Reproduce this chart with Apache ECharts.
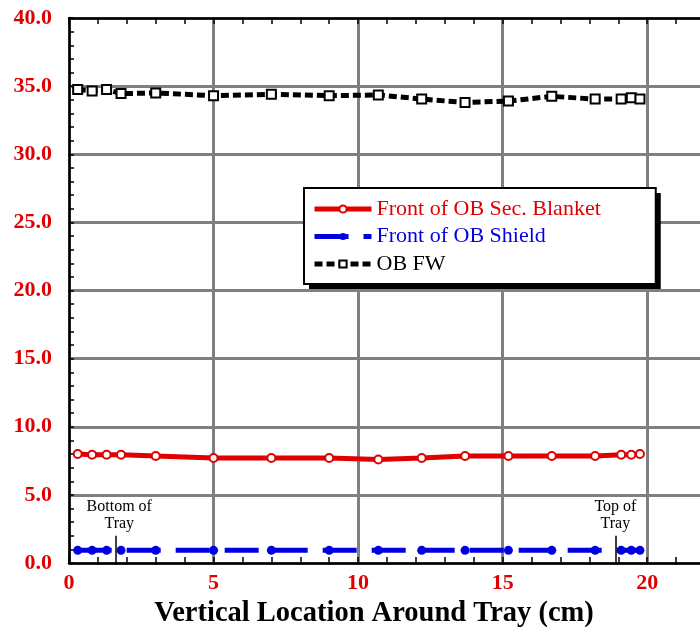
<!DOCTYPE html>
<html><head><meta charset="utf-8">
<script src="https://cdn.jsdelivr.net/npm/echarts@6/dist/echarts.min.js"></script>
<style>html,body{margin:0;padding:0;background:#fff}#c{width:700px;height:628px}</style>
</head><body><div id="c"></div>
<script>
const xPos = [0.3, 0.8, 1.3, 1.8, 3.0, 5.0, 7.0, 9.0, 10.7, 12.2, 13.7, 15.2, 16.7, 18.2, 19.1, 19.45, 19.75];
const secBlanket = [8.0, 7.95, 7.95, 7.95, 7.85, 7.7, 7.7, 7.7, 7.6, 7.7, 7.85, 7.85, 7.85, 7.85, 7.95, 7.95, 8.0];
const shield = [0.93, 0.93, 0.93, 0.93, 0.93, 0.93, 0.93, 0.93, 0.93, 0.93, 0.93, 0.93, 0.93, 0.93, 0.93, 0.93, 0.93];
const obFW = [34.75, 34.65, 34.75, 34.45, 34.5, 34.3, 34.4, 34.3, 34.35, 34.05, 33.8, 33.9, 34.25, 34.05, 34.05, 34.15, 34.05];
const seriesNames = ['Front of OB Sec. Blanket', 'Front of OB Shield', 'OB FW'];
const seriesColors = ['#e00000', '#0000e0', '#000000'];
const annotX = [1.6, 18.9];
const annotTop = 2.0;
const annotText = ['Bottom of\nTray', 'Top of\nTray'];
const xTitle = 'Vertical Location Around Tray (cm)';

const serif = 'Liberation Serif';
const red = '#e00000';
const gridRect = {left: 69, top: 18, right: -5, bottom: 65, outerBoundsMode: 'none', containLabel: false};
const pairs = arr => xPos.map((x, i) => [x, arr[i]]);
const frameLine = {show: true, onZero: false, lineStyle: {color: '#000', width: 2.5}};
const frameTick = {show: true, inside: true, length: 6, lineStyle: {color: '#000', width: 1.5}};
const gridSplit = {show: true, lineStyle: {color: '#808080', width: 3}};
const off = {show: false};

const legendBase = {
  orient: 'vertical', left: 304, top: 188,
  itemWidth: 57, itemHeight: 9, itemGap: 5.5,
  padding: [10, 55, 9, 8],
  textStyle: {fontFamily: serif, fontSize: 22, lineHeight: 22},
  lineStyle: {width: 5}
};

const chart = echarts.init(document.getElementById('c'), null, {renderer: 'canvas'});
chart.setOption({
  animation: false,
  backgroundColor: '#fff',
  grid: [Object.assign({}, gridRect), Object.assign({}, gridRect)],
  xAxis: [
    {gridIndex: 0, type: 'value', position: 'bottom', min: 0, max: 22, interval: 1, z: 1,
     axisLine: frameLine, axisTick: frameTick, splitLine: off,
     axisLabel: {formatter: v => (v % 5 === 0 ? String(v) : ''), color: red, fontFamily: serif,
                 fontWeight: 'bold', fontSize: 22, margin: 9},
     name: xTitle, nameLocation: 'middle', nameGap: 33,
     nameTextStyle: {fontFamily: serif, fontWeight: 'bold', fontSize: 28.5, color: '#000', padding: [0, 26, 0, 0]}},
    {gridIndex: 0, type: 'value', position: 'top', min: 0, max: 22, interval: 1, z: 1,
     axisLine: frameLine, axisTick: frameTick, splitLine: off, axisLabel: off},
    {gridIndex: 1, type: 'value', min: 0, max: 22, interval: 5, z: 0,
     axisLine: off, axisTick: off, axisLabel: off, splitLine: gridSplit}
  ],
  yAxis: [
    {gridIndex: 0, type: 'value', position: 'left', min: 0, max: 40, interval: 5, z: 1,
     axisLine: frameLine, axisTick: {show: true, inside: true, length: 5, lineStyle: {color: '#000', width: 1.5}},
     minorTick: {show: true, splitNumber: 5, length: 5, lineStyle: {color: '#000', width: 1.5}},
     splitLine: off,
     axisLabel: {formatter: v => v.toFixed(1), color: red, fontFamily: serif, fontWeight: 'bold', fontSize: 22, margin: 17}},
    {gridIndex: 0, type: 'value', position: 'right', min: 0, max: 40, interval: 5, z: 1,
     axisLine: frameLine, axisTick: {show: true, inside: true, length: 5, lineStyle: {color: '#000', width: 1.5}},
     minorTick: {show: true, splitNumber: 5, length: 5, lineStyle: {color: '#000', width: 1.5}},
     splitLine: off, axisLabel: off},
    {gridIndex: 1, type: 'value', min: 0, max: 40, interval: 5, z: 0,
     axisLine: off, axisTick: off, axisLabel: off, splitLine: gridSplit}
  ],
  legend: [
    Object.assign({}, legendBase, {
      z: 4, backgroundColor: '#fff', borderWidth: 0,
      shadowColor: '#000', shadowBlur: 0, shadowOffsetX: 5, shadowOffsetY: 5,
      data: seriesNames.map((n, i) => ({name: n, textStyle: {color: seriesColors[i]}}))
    }),
    Object.assign({}, legendBase, {
      z: 5, backgroundColor: 'transparent', borderColor: '#000', borderWidth: 2,
      itemStyle: {opacity: 0}, lineStyle: {width: 5, opacity: 0},
      data: seriesNames.map(n => ({name: n, textStyle: {color: 'rgba(0,0,0,0)'}}))
    })
  ],
  series: [
    {name: seriesNames[2], type: 'line', xAxisIndex: 0, yAxisIndex: 0, data: pairs(obFW), z: 3,
     symbol: 'emptyRect', symbolSize: 9,
     lineStyle: {color: seriesColors[2], width: 5, type: [8, 4]},
     itemStyle: {color: seriesColors[2], borderWidth: 2}},
    {name: seriesNames[0], type: 'line', xAxisIndex: 0, yAxisIndex: 0, data: pairs(secBlanket), z: 3,
     symbol: 'emptyCircle', symbolSize: 8,
     lineStyle: {color: seriesColors[0], width: 5},
     itemStyle: {color: seriesColors[0], borderWidth: 2}},
    {name: seriesNames[1], type: 'line', xAxisIndex: 0, yAxisIndex: 0, data: pairs(shield), z: 3,
     symbol: 'circle', symbolSize: 9,
     lineStyle: {color: seriesColors[1], width: 5, type: [34, 15]},
     itemStyle: {color: seriesColors[1]}},
    {name: 'notes', type: 'scatter', xAxisIndex: 0, yAxisIndex: 0, silent: true, z: 4,
     symbolSize: 0, itemStyle: {opacity: 1},
     data: annotX.map((x, i) => ({value: [x, annotTop],
       label: {formatter: annotText[i], offset: [i === 0 ? 4 : 0, 0]}})),
     label: {show: true, position: 'top', distance: 3, color: '#000', opacity: 1, fontFamily: serif,
             fontSize: 16, lineHeight: 17, align: 'center'},
     markLine: {silent: true, symbol: 'none', animation: false, label: {show: false},
                lineStyle: {color: '#000', width: 1.5, type: 'solid', opacity: 1},
                data: annotX.map(x => [{coord: [x, 0]}, {coord: [x, annotTop]}])}}
  ]
});
</script></body></html>
